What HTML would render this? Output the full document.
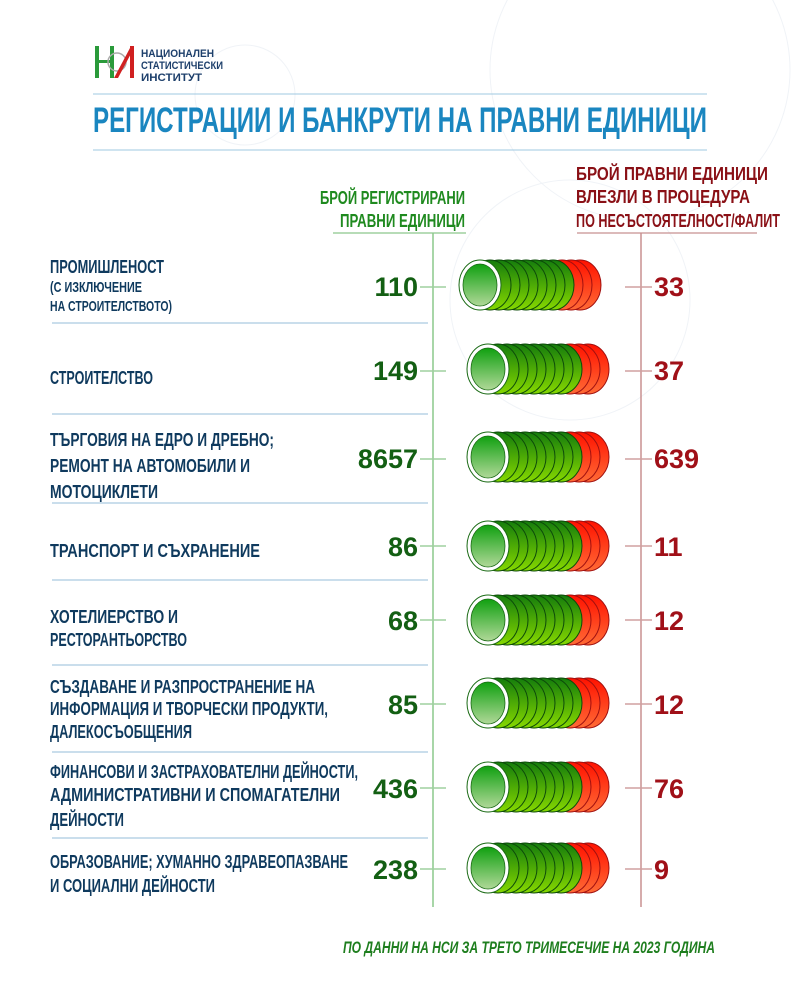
<!DOCTYPE html>
<html><head><meta charset="utf-8"><style>
html,body{margin:0;padding:0;background:#fff;}
svg{display:block}
text{font-family:"Liberation Sans",sans-serif;font-weight:bold}
</style></head><body>
<svg width="800" height="1000" viewBox="0 0 800 1000" xmlns="http://www.w3.org/2000/svg">
<defs>
<linearGradient id="g" x1="0" y1="0" x2="0" y2="1"><stop offset="0" stop-color="#157d0c"/><stop offset="1" stop-color="#86d800"/></linearGradient>
<linearGradient id="r" x1="0" y1="0" x2="0" y2="1"><stop offset="0" stop-color="#ff1200"/><stop offset="1" stop-color="#ff6a35"/></linearGradient>
<linearGradient id="f" x1="0" y1="0" x2="0" y2="1"><stop offset="0" stop-color="#10a010"/><stop offset="1" stop-color="#b0d898"/></linearGradient>
<g id="cyl">
<ellipse cx="100" cy="0" rx="21" ry="25" fill="url(#r)" stroke="#a01010" stroke-width="1"/>
<ellipse cx="91" cy="0" rx="21" ry="25" fill="url(#r)" stroke="#a01010" stroke-width="1"/>
<ellipse cx="82" cy="0" rx="21" ry="25" fill="url(#r)" stroke="#a01010" stroke-width="1"/>
<ellipse cx="73" cy="0" rx="21" ry="25" fill="url(#g)" stroke="#0d4a0a" stroke-width="1"/>
<ellipse cx="64" cy="0" rx="21" ry="25" fill="url(#g)" stroke="#0d4a0a" stroke-width="1"/>
<ellipse cx="55" cy="0" rx="21" ry="25" fill="url(#g)" stroke="#0d4a0a" stroke-width="1"/>
<ellipse cx="46" cy="0" rx="21" ry="25" fill="url(#g)" stroke="#0d4a0a" stroke-width="1"/>
<ellipse cx="37" cy="0" rx="21" ry="25" fill="url(#g)" stroke="#0d4a0a" stroke-width="1"/>
<ellipse cx="28" cy="0" rx="21" ry="25" fill="url(#g)" stroke="#0d4a0a" stroke-width="1"/>
<ellipse cx="19" cy="0" rx="21" ry="25" fill="url(#g)" stroke="#0d4a0a" stroke-width="1"/>
<ellipse cx="10" cy="0" rx="21" ry="25" fill="url(#g)" stroke="#0d4a0a" stroke-width="1"/>
<ellipse cx="0" cy="0" rx="21" ry="25" fill="#fff" stroke="#1a6a14" stroke-width="1"/>
<ellipse cx="0" cy="0" rx="17" ry="21" fill="url(#f)" stroke="#1a6a14" stroke-width="0.8"/>
</g>
</defs>
<g fill="none" stroke="#f0f3f7" stroke-width="1">
<circle cx="245" cy="95" r="50"/><circle cx="640" cy="70" r="150"/><circle cx="570" cy="300" r="120"/>
</g>
<g>
<rect x="95" y="46" width="4" height="32" fill="#2a9a3a"/><rect x="95" y="60" width="18" height="3" fill="#2a9a3a"/>
<rect x="110" y="46" width="4" height="32" fill="#2a9a3a"/>
<circle cx="117" cy="62" r="9" fill="none" stroke="#aaa" stroke-width="1.5"/>
<rect x="130" y="46" width="4" height="32" fill="#d02020"/><polygon points="114,78 118,78 134,48 130,48" fill="#d02020"/>
<text x="141" y="57" font-size="11" fill="#1d3f6b" textLength="73" lengthAdjust="spacingAndGlyphs">НАЦИОНАЛЕН</text>
<text x="141" y="69" font-size="11" fill="#1d3f6b" textLength="82" lengthAdjust="spacingAndGlyphs">СТАТИСТИЧЕСКИ</text>
<text x="141" y="81" font-size="11" fill="#1d3f6b" textLength="61" lengthAdjust="spacingAndGlyphs">ИНСТИТУТ</text>
</g>
<line x1="93" y1="94" x2="707" y2="94" stroke="#9fc8e0" stroke-width="1"/>
<line x1="93" y1="150" x2="707" y2="150" stroke="#9fc8e0" stroke-width="1"/>
<text x="93" y="132" font-size="35" fill="#1a86c0" textLength="614" lengthAdjust="spacingAndGlyphs">РЕГИСТРАЦИИ И БАНКРУТИ НА ПРАВНИ ЕДИНИЦИ</text>
<g fill="#1f8a1f" font-size="18">
<text x="320" y="204" textLength="145" lengthAdjust="spacingAndGlyphs">БРОЙ РЕГИСТРИРАНИ</text>
<text x="340" y="227" textLength="125" lengthAdjust="spacingAndGlyphs">ПРАВНИ ЕДИНИЦИ</text>
</g>
<g fill="#8a1016" font-size="18">
<text x="576" y="180" textLength="192" lengthAdjust="spacingAndGlyphs">БРОЙ ПРАВНИ ЕДИНИЦИ</text>
<text x="576" y="203" textLength="174" lengthAdjust="spacingAndGlyphs">ВЛЕЗЛИ В ПРОЦЕДУРА</text>
<text x="576" y="227" textLength="204" lengthAdjust="spacingAndGlyphs">ПО НЕСЪСТОЯТЕЛНОСТ/ФАЛИТ</text>
</g>
<line x1="333" y1="233" x2="466" y2="233" stroke="#8cc88c" stroke-width="1.2"/>
<line x1="433" y1="233" x2="433" y2="907" stroke="#8cc88c" stroke-width="1.5"/>
<line x1="577" y1="233" x2="757" y2="233" stroke="#c89090" stroke-width="1.2"/>
<line x1="641" y1="233" x2="641" y2="907" stroke="#c89090" stroke-width="1.5"/>
<g stroke="#b8d4e6" stroke-width="1.5">
<line x1="52" y1="323" x2="428" y2="323"/><line x1="52" y1="414" x2="428" y2="414"/>
<line x1="52" y1="503" x2="428" y2="503"/><line x1="52" y1="580" x2="428" y2="580"/>
<line x1="52" y1="665" x2="428" y2="665"/><line x1="52" y1="752" x2="428" y2="752"/>
<line x1="52" y1="838" x2="428" y2="838"/>
</g>
<g stroke-width="1.5">
<g stroke="#9fd09f"><line x1="420" y1="287" x2="446" y2="287"/><line x1="420" y1="371" x2="446" y2="371"/><line x1="420" y1="459" x2="446" y2="459"/><line x1="420" y1="546" x2="446" y2="546"/><line x1="420" y1="620" x2="446" y2="620"/><line x1="420" y1="704" x2="446" y2="704"/><line x1="420" y1="788" x2="446" y2="788"/><line x1="420" y1="869" x2="446" y2="869"/></g>
<g stroke="#d0a0a0"><line x1="625" y1="287" x2="652" y2="287"/><line x1="625" y1="371" x2="652" y2="371"/><line x1="625" y1="459" x2="652" y2="459"/><line x1="625" y1="546" x2="652" y2="546"/><line x1="625" y1="620" x2="652" y2="620"/><line x1="625" y1="704" x2="652" y2="704"/><line x1="625" y1="788" x2="652" y2="788"/><line x1="625" y1="869" x2="652" y2="869"/></g>
</g>
<use href="#cyl" transform="translate(480,285)"/>
<use href="#cyl" transform="translate(488,369)"/>
<use href="#cyl" transform="translate(488,457)"/>
<use href="#cyl" transform="translate(488,546)"/>
<use href="#cyl" transform="translate(488,620)"/>
<use href="#cyl" transform="translate(488,703)"/>
<use href="#cyl" transform="translate(488,787)"/>
<use href="#cyl" transform="translate(488,868)"/>
<g fill="#0f3a5e" font-size="18">
<text x="50" y="273" textLength="114" lengthAdjust="spacingAndGlyphs">ПРОМИШЛЕНОСТ</text>
<text x="50" y="292" font-size="15" textLength="92" lengthAdjust="spacingAndGlyphs">(С ИЗКЛЮЧЕНИЕ</text>
<text x="50" y="311" font-size="15" textLength="122" lengthAdjust="spacingAndGlyphs">НА СТРОИТЕЛСТВОТО)</text>
<text x="50" y="384" textLength="103" lengthAdjust="spacingAndGlyphs">СТРОИТЕЛСТВО</text>
<text x="50" y="446" textLength="224" lengthAdjust="spacingAndGlyphs">ТЪРГОВИЯ НА ЕДРО И ДРЕБНО;</text>
<text x="50" y="472" textLength="200" lengthAdjust="spacingAndGlyphs">РЕМОНТ НА АВТОМОБИЛИ И</text>
<text x="50" y="498" textLength="108" lengthAdjust="spacingAndGlyphs">МОТОЦИКЛЕТИ</text>
<text x="50" y="557" textLength="210" lengthAdjust="spacingAndGlyphs">ТРАНСПОРТ И СЪХРАНЕНИЕ</text>
<text x="50" y="623" textLength="128" lengthAdjust="spacingAndGlyphs">ХОТЕЛИЕРСТВО И</text>
<text x="50" y="646" textLength="137" lengthAdjust="spacingAndGlyphs">РЕСТОРАНТЬОРСТВО</text>
<text x="50" y="693" textLength="265" lengthAdjust="spacingAndGlyphs">СЪЗДАВАНЕ И РАЗПРОСТРАНЕНИЕ НА</text>
<text x="50" y="715" textLength="278" lengthAdjust="spacingAndGlyphs">ИНФОРМАЦИЯ И ТВОРЧЕСКИ ПРОДУКТИ,</text>
<text x="50" y="738" textLength="142" lengthAdjust="spacingAndGlyphs">ДАЛЕКОСЪОБЩЕНИЯ</text>
<text x="50" y="778" textLength="308" lengthAdjust="spacingAndGlyphs">ФИНАНСОВИ И ЗАСТРАХОВАТЕЛНИ ДЕЙНОСТИ,</text>
<text x="50" y="801" textLength="290" lengthAdjust="spacingAndGlyphs">АДМИНИСТРАТИВНИ И СПОМАГАТЕЛНИ</text>
<text x="50" y="826" textLength="74" lengthAdjust="spacingAndGlyphs">ДЕЙНОСТИ</text>
<text x="50" y="868" textLength="298" lengthAdjust="spacingAndGlyphs">ОБРАЗОВАНИЕ; ХУМАННО ЗДРАВЕОПАЗВАНЕ</text>
<text x="50" y="892" textLength="165" lengthAdjust="spacingAndGlyphs">И СОЦИАЛНИ ДЕЙНОСТИ</text>
</g>
<g fill="#135f13" font-size="27" text-anchor="end">
<text x="418" y="296">110</text><text x="418" y="380">149</text><text x="418" y="468">8657</text><text x="418" y="556">86</text>
<text x="418" y="630">68</text><text x="418" y="714">85</text><text x="418" y="798">436</text><text x="418" y="879">238</text>
</g>
<g fill="#a01018" font-size="27">
<text x="654" y="296">33</text><text x="654" y="380">37</text><text x="654" y="468">639</text><text x="654" y="556">11</text>
<text x="654" y="630">12</text><text x="654" y="714">12</text><text x="654" y="798">76</text><text x="654" y="879">9</text>
</g>
<text x="343" y="953" font-size="17" font-style="italic" fill="#1e7e1e" textLength="372" lengthAdjust="spacingAndGlyphs">ПО ДАННИ НА НСИ ЗА ТРЕТО ТРИМЕСЕЧИЕ НА 2023 ГОДИНА</text>
</svg>
</body></html>
